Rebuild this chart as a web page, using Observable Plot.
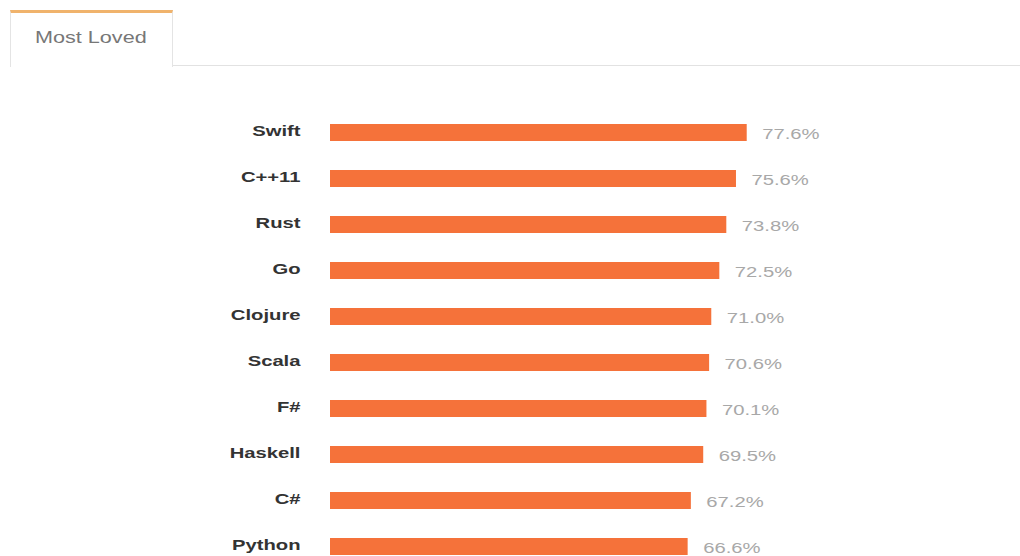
<!DOCTYPE html>
<html>
<head>
<meta charset="utf-8">
<script src="https://cdn.jsdelivr.net/npm/d3@7"></script>
<script src="https://cdn.jsdelivr.net/npm/@observablehq/plot@0.6"></script>
<style>
  html, body { margin: 0; padding: 0; background: #fff; width: 1020px; height: 556px; overflow: hidden; }
  #header { position: relative; height: 70px; font-family: "Liberation Sans", Arial, sans-serif; }
  #tab { position: absolute; left: 10px; top: 10px; width: 163px; height: 57px; box-sizing: border-box;
         border-top: 3px solid #f0b36c; border-left: 1px solid #e4e4e4; border-right: 1px solid #e4e4e4;
         background: #fff; }
  #tab span { position: absolute; left: 24px; top: 16px; font-size: 16px; color: #777;
              transform: scaleX(1.35); transform-origin: 0 50%; white-space: nowrap; }
  #rule { position: absolute; left: 172px; right: 0; top: 65px; height: 1px; background: #e2e2e2; }
  #chart svg { display: block; }
</style>
</head>
<body>
<div id="header">
  <div id="rule"></div>
  <div id="tab"><span>Most Loved</span></div>
</div>
<div id="chart"></div>
<script>
const languages = ["Swift", "C++11", "Rust", "Go", "Clojure", "Scala", "F#", "Haskell", "C#", "Python"];
const lovedPct = [77.6, 75.6, 73.8, 72.5, 71.0, 70.6, 70.1, 69.5, 67.2, 66.6];

const rows = languages.map((name, i) => ({name, value: lovedPct[i]}));

const chart = Plot.plot({
  width: 1020,
  height: 486,
  marginLeft: 330,
  marginRight: 153,
  marginTop: 54,
  marginBottom: 0,
  style: {fontFamily: "'Liberation Sans', Arial, sans-serif", background: "#fff"},
  x: {domain: [0, 100], axis: null},
  y: {domain: languages, axis: null, paddingInner: 0.63, paddingOuter: 0},
  marks: [
    Plot.barX(rows, {x: "value", y: "name", fill: "#f5723a"}),
    Plot.text(rows, {x: 0, y: "name", text: "name", textAnchor: "end", dx: -30, dy: -2,
                     fontSize: 15, fontWeight: "bold", fill: "#333"}),
    Plot.text(rows, {x: "value", y: "name", text: d => d.value.toFixed(1) + "%", textAnchor: "start", dx: 15, dy: 1,
                     fontSize: 15, fill: "#a8a8a8"})
  ]
});
// widen glyphs horizontally, as in the reference image
d3.select(chart).selectAll("g[aria-label='text'] text").each(function () {
  const t = this.getAttribute("transform") || "";
  const xa = this.getAttribute("x");
  let pre = "";
  if (xa !== null && isFinite(+xa)) {
    pre = ` translate(${+xa},0)`;
    this.removeAttribute("x");
  }
  this.setAttribute("transform", `${t}${pre} scale(1.35,1)`);
});
document.getElementById("chart").appendChild(chart);
</script>
</body>
</html>
